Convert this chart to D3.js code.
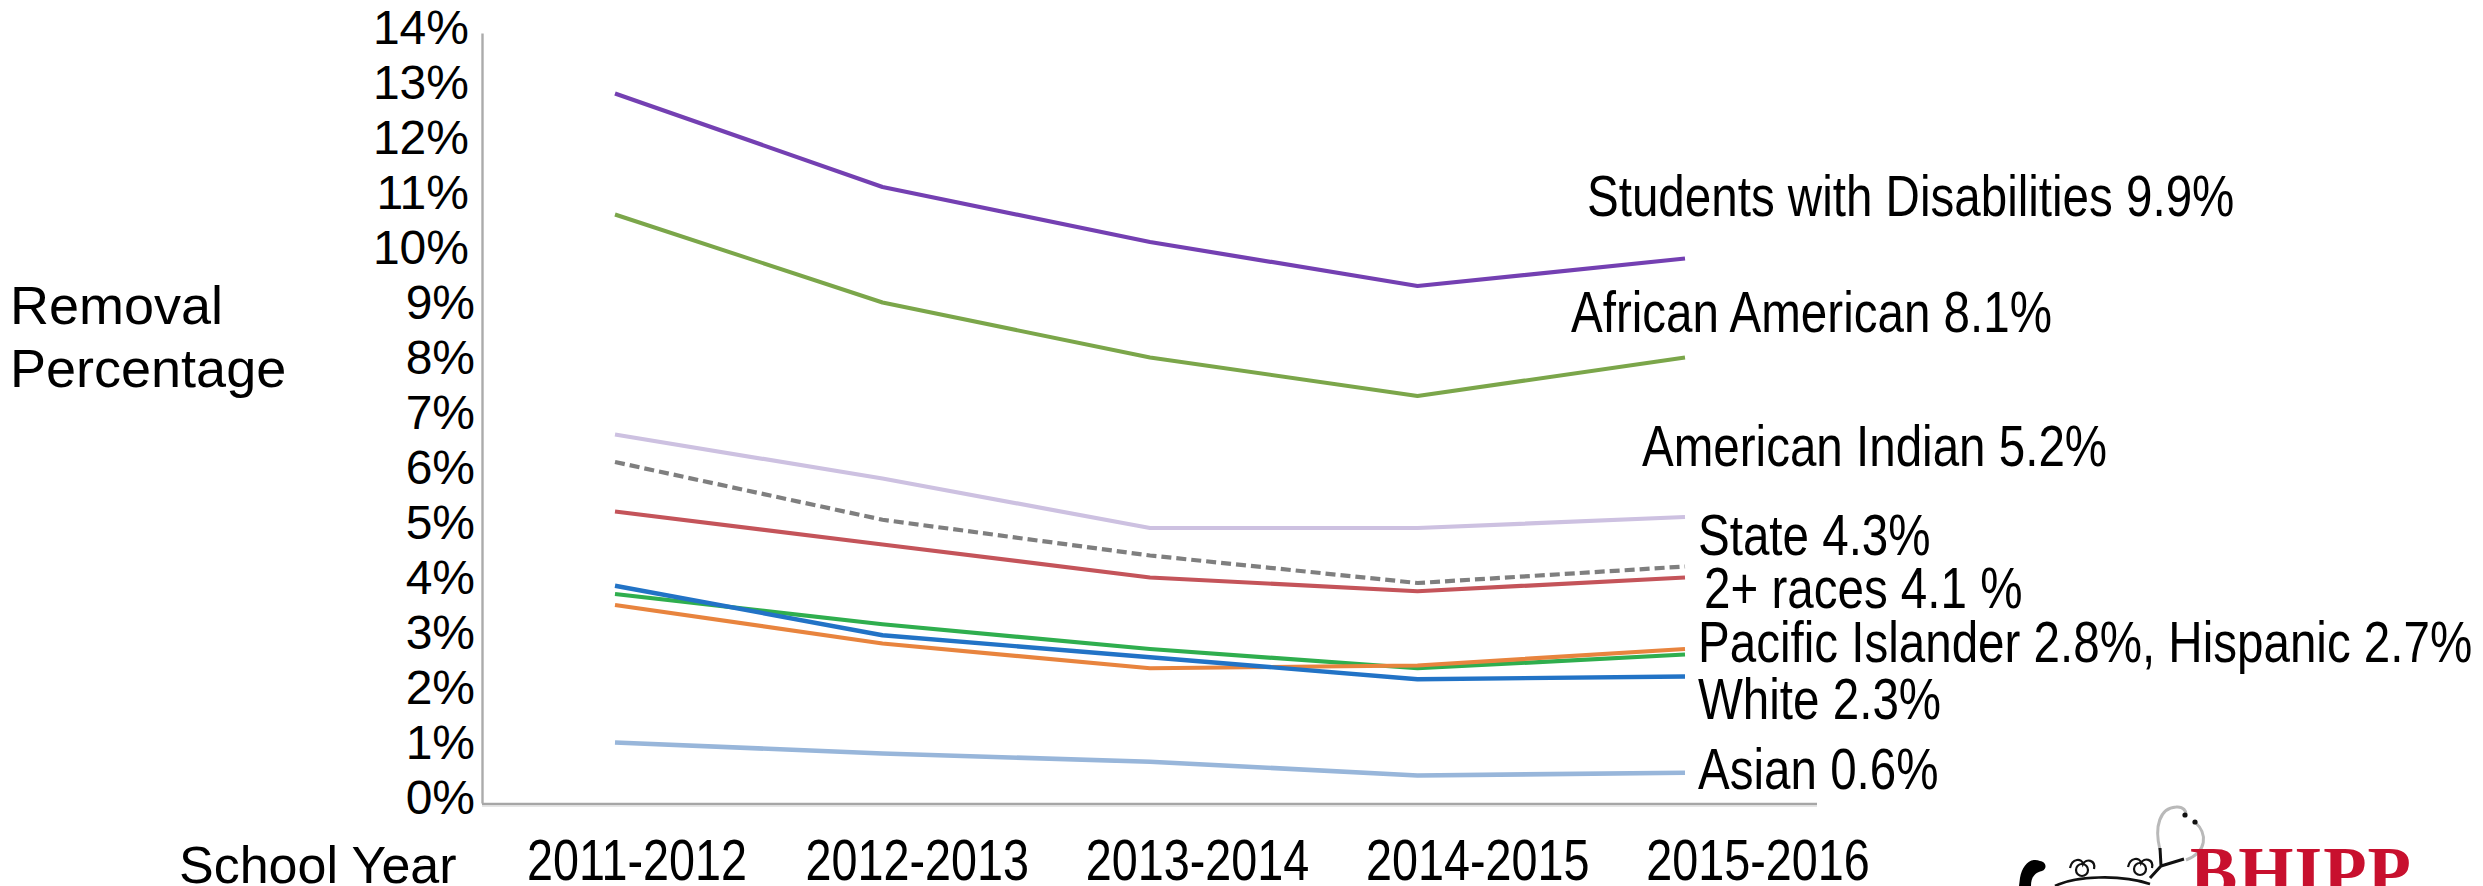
<!DOCTYPE html>
<html>
<head>
<meta charset="utf-8">
<script src="https://cdn.jsdelivr.net/npm/d3@7"></script>
<style>
  html, body { margin: 0; padding: 0; background: #ffffff; }
  svg { display: block; }
</style>
</head>
<body>
<svg id="chart" width="2483" height="886"></svg>
<script>
// ---------------- DATA ----------------
const years = ["2011-2012", "2012-2013", "2013-2014", "2014-2015", "2015-2016"];
const yTicks = [0, 1, 2, 3, 4, 5, 6, 7, 8, 9, 10, 11, 12, 13, 14];

const disabilities    = [12.9, 11.2, 10.2, 9.4, 9.9];
const africanAmerican = [10.7, 9.1, 8.1, 7.4, 8.1];
const americanIndian  = [6.7, 5.9, 5.0, 5.0, 5.2];
const stateAll        = [6.2, 5.15, 4.5, 4.0, 4.3];
const twoPlusRaces    = [5.3, 4.7, 4.1, 3.85, 4.1];
const hispanic        = [3.8, 3.25, 2.8, 2.45, 2.7];
const pacificIslander = [3.6, 2.9, 2.45, 2.5, 2.8];
const white           = [3.95, 3.05, 2.65, 2.25, 2.3];
const asian           = [1.1, 0.9, 0.75, 0.5, 0.55];

const seriesLabels = [
  "Students with Disabilities 9.9%",
  "African American 8.1%",
  "American Indian 5.2%",
  "State 4.3%",
  "2+ races 4.1 %",
  "Pacific Islander 2.8%, Hispanic 2.7%",
  "White 2.3%",
  "Asian 0.6%"
];

// ---------------- LAYOUT / STYLE ----------------
const series = [
  { values: asian,           color: "#98b6da", width: 4.6, dash: null },
  { values: americanIndian,  color: "#cdc1e1", width: 4.2, dash: null },
  { values: stateAll,        color: "#7f7f7f", width: 4.2, dash: "10,5" },
  { values: twoPlusRaces,    color: "#c4545a", width: 4.2, dash: null },
  { values: hispanic,        color: "#2fae4e", width: 4.2, dash: null },
  { values: pacificIslander, color: "#e8843e", width: 4.2, dash: null },
  { values: white,           color: "#2273c6", width: 4.4, dash: null },
  { values: africanAmerican, color: "#7ba64a", width: 4.0, dash: null },
  { values: disabilities,    color: "#7440b2", width: 4.2, dash: null }
];

const labelLayout = [
  { x: 1587, y: 216 },
  { x: 1571, y: 332 },
  { x: 1642, y: 466 },
  { x: 1698, y: 555 },
  { x: 1704, y: 608 },
  { x: 1698, y: 662 },
  { x: 1698, y: 719 },
  { x: 1698, y: 789 }
];

const svg = d3.select("#chart");

const x = d3.scalePoint().domain(years).range([615, 1685]);
const xLab = d3.scalePoint().domain(years).range([637, 1758]);
const y = d3.scaleLinear().domain([0, 14]).range([803, 33]);

// ---------------- AXES ----------------
const yAxis = svg.append("g")
  .attr("transform", "translate(482,0)")
  .call(d3.axisLeft(y).tickValues(yTicks).tickFormat(d => d + "%").tickSize(0).tickPadding(10));
yAxis.select(".domain").attr("stroke", "#ababab").attr("stroke-width", 2.4);
yAxis.selectAll("text")
  .attr("font-family", "'Liberation Sans', Arial, sans-serif")
  .attr("font-size", 48)
  .attr("fill", "#000")
  .attr("dy", "0.32em")
  .attr("y", -5)
  .attr("x", d => d >= 10 ? -13 : -7);

svg.append("line")
  .attr("x1", 482).attr("x2", 1817)
  .attr("y1", y(0) + 1).attr("y2", y(0) + 1)
  .attr("stroke", "#a6a6a6").attr("stroke-width", 2.6);
svg.append("line")
  .attr("x1", 482).attr("x2", 1817)
  .attr("y1", y(0) + 3).attr("y2", y(0) + 3)
  .attr("stroke", "#dcdcdc").attr("stroke-width", 1.5);

// x axis labels (condensed)
svg.append("g")
  .attr("transform", "translate(0,880)")
  .selectAll("text")
  .data(years)
  .join("text")
  .attr("transform", d => `translate(${xLab(d)},0) scale(0.82,1)`)
  .attr("text-anchor", "middle")
  .attr("font-family", "'Liberation Sans', Arial, sans-serif")
  .attr("font-size", 57)
  .attr("fill", "#000")
  .text(d => d);

// axis titles
const titleFont = "'Liberation Sans', Arial, sans-serif";
svg.append("text").attr("x", 10).attr("y", 324)
  .attr("font-family", titleFont).attr("font-size", 54).attr("fill", "#000").text("Removal");
svg.append("text").attr("x", 10).attr("y", 387)
  .attr("font-family", titleFont).attr("font-size", 54).attr("fill", "#000").text("Percentage");
svg.append("text").attr("x", 179).attr("y", 883)
  .attr("font-family", titleFont).attr("font-size", 52).attr("fill", "#000").text("School Year");

// ---------------- LINES ----------------
const line = d3.line()
  .x((d, i) => x(years[i]))
  .y(d => y(d));

svg.append("g")
  .selectAll("path")
  .data(series)
  .join("path")
  .attr("d", d => line(d.values))
  .attr("fill", "none")
  .attr("stroke", d => d.color)
  .attr("stroke-width", d => d.width)
  .attr("stroke-dasharray", d => d.dash)
  .attr("stroke-linejoin", "round")
  .attr("stroke-linecap", "butt");

// white box behind State label (covers end of American Indian line)
svg.append("rect")
  .attr("x", 1663).attr("y", y(americanIndian[4]) + 4)
  .attr("width", 200).attr("height", 36)
  .attr("fill", "#fff");

// ---------------- SERIES LABELS ----------------
svg.append("g")
  .selectAll("text")
  .data(seriesLabels)
  .join("text")
  .attr("transform", (d, i) => `translate(${labelLayout[i].x},${labelLayout[i].y}) scale(0.82,1)`)
  .attr("font-family", "'Liberation Sans', Arial, sans-serif")
  .attr("font-size", 58)
  .attr("fill", "#000")
  .text(d => d);

// ---------------- LOGO (partial, bottom right) ----------------
const logo = svg.append("g");
logo.append("path")
  .attr("d", "M2160,850 C2154,826 2160,808 2176,807 C2184,806 2186,812 2186,814")
  .attr("fill", "none").attr("stroke", "#b9b9b9").attr("stroke-width", 3);
logo.append("path")
  .attr("d", "M2195,822 C2208,834 2207,852 2186,860")
  .attr("fill", "none").attr("stroke", "#b9b9b9").attr("stroke-width", 3);
logo.append("circle").attr("cx", 2185).attr("cy", 815).attr("r", 2.6).attr("fill", "#111");
logo.append("circle").attr("cx", 2195).attr("cy", 822).attr("r", 2.6).attr("fill", "#111");
logo.append("path")
  .attr("d", "M2160,848 L2161,866 M2161,866 L2184,859 M2161,866 L2150,878")
  .attr("fill", "none").attr("stroke", "#111").attr("stroke-width", 3);
logo.append("path")
  .attr("d", "M2040,861 C2030,857 2022,866 2020,878 L2019,886 L2031,886 C2031,878 2034,873 2042,871 C2047,869 2047,862 2040,861 Z")
  .attr("fill", "#000");
[[2082, 870], [2140, 869]].forEach(([cx, cy]) => {
  logo.append("circle").attr("cx", cx).attr("cy", cy).attr("r", 6)
    .attr("fill", "none").attr("stroke", "#111").attr("stroke-width", 2.2);
  logo.append("path")
    .attr("d", `M${cx - 12},${cy - 2} C${cx - 10},${cy - 12} ${cx},${cy - 12} ${cx + 1},${cy - 6} C${cx + 4},${cy - 12} ${cx + 14},${cy - 10} ${cx + 12},${cy - 1}`)
    .attr("fill", "none").attr("stroke", "#111").attr("stroke-width", 2.2);
});
logo.append("path")
  .attr("d", "M2055,886 C2075,876 2120,874 2150,884")
  .attr("fill", "none").attr("stroke", "#111").attr("stroke-width", 2.6);
logo.append("text")
  .attr("x", 2190).attr("y", 896)
  .attr("font-family", "'Liberation Serif', 'DejaVu Serif', serif")
  .attr("font-weight", "bold")
  .attr("font-size", 71)
  .attr("fill", "#c8102e")
  .attr("letter-spacing", 1)
  .text("BHIPP");
</script>
</body>
</html>
